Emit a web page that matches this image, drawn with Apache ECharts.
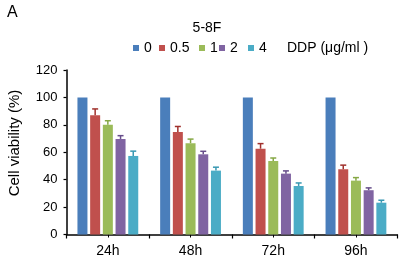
<!DOCTYPE html>
<html>
<head>
<meta charset="utf-8">
<script src="https://cdn.jsdelivr.net/npm/echarts@6/dist/echarts.min.js"></script>
<style>
  html, body { margin: 0; padding: 0; background: #fff; }
  #chart { width: 404px; height: 264px; }
</style>
</head>
<body>
<div id="chart"></div>
<script>
// time points and DDP doses
const categories = ['24h', '48h', '72h', '96h'];
const doses = ['0', '0.5', '1', '2', '4'];

// cell viability (%) per dose
const v0 = [100, 100, 100, 100];
const v05 = [87, 74.8, 62.6, 47.6];
const v1 = [80, 66.6, 53.6, 39.3];
const v2 = [69.7, 58.5, 44.4, 32.3];
const v4 = [57.3, 46.6, 35.4, 23.2];

// error (upper) per dose
const e0 = [0, 0, 0, 0];
const e05 = [4.6, 4, 3.7, 3];
const e1 = [3, 3, 2.2, 2.2];
const e2 = [2.4, 2.2, 2, 1.7];
const e4 = [3.5, 2.5, 2.2, 1.8];

const yTicks = [0, 20, 40, 60, 80, 100, 120];

const values = [v0, v05, v1, v2, v4];
const errors = [e0, e05, e1, e2, e4];
const colors = ['#4a7ebb', '#c0504d', '#9bbb59', '#8064a2', '#4bacc6'];
const errColors = ['#3a64a0', '#a0302c', '#86a845', '#664d8a', '#3898b2'];

const FONT = 'Liberation Sans, Arial, sans-serif';
const BAR_W = 10;
const BAR_STEP = 12.7;

const chart = echarts.init(document.getElementById('chart'));

const series = [];
values.forEach((vals, i) => {
  series.push({
    name: doses[i],
    type: 'bar',
    data: vals,
    barWidth: BAR_W,
    barGap: '27%',
    itemStyle: { color: colors[i] },
    emphasis: { disabled: true }
  });
});
values.forEach((vals, i) => {
  if (errors[i].every(e => e === 0)) return;
  series.push({
    type: 'custom',
    data: vals.map((v, k) => [k, v, errors[i][k]]),
    silent: true,
    z: 5,
    renderItem: function (params, api) {
      const top = api.coord([api.value(0), api.value(1) + api.value(2)]);
      const base = api.coord([api.value(0), api.value(1)]);
      const x = top[0] + (i - 2) * BAR_STEP;
      const style = { stroke: errColors[i], lineWidth: 1.5 };
      return {
        type: 'group',
        children: [
          { type: 'line', shape: { x1: x, y1: base[1], x2: x, y2: top[1] }, style: style },
          { type: 'line', shape: { x1: x - 3, y1: top[1], x2: x + 3, y2: top[1] }, style: style }
        ]
      };
    }
  });
});

// one legend per item so the spacing follows the original
const legendLeft = [133, 159, 199, 219, 248];
const legends = doses.map((d, i) => ({
  data: [d],
  left: legendLeft[i],
  top: 40,
  padding: 0,
  itemWidth: 6,
  itemHeight: 6,
  icon: 'rect',
  selectedMode: false,
  textStyle: { fontFamily: FONT, fontSize: 14, color: '#000', lineHeight: 16 }
}));

const option = {
  animation: false,
  textStyle: { fontFamily: FONT },
  title: {
    text: '5-8F',
    left: 202,
    textAlign: 'center',
    top: 16,
    textStyle: { fontFamily: FONT, fontSize: 14, fontWeight: 'normal', color: '#000' }
  },
  legend: legends,
  graphic: [
    { type: 'text', left: 7, top: 5, style: { text: 'A', font: '16px ' + FONT, fill: '#000' } },
    { type: 'text', left: 287, top: 40, style: { text: 'DDP (μg/ml )', font: '14px ' + FONT, fill: '#000', lineHeight: 16 } },
    {
      type: 'text', x: 15, y: 143, rotation: Math.PI / 2,
      style: { text: 'Cell viability (%)', font: '15px ' + FONT, fill: '#000', align: 'center', verticalAlign: 'middle' }
    }
  ],
  grid: { left: 66.5, right: 6.7, top: 70, bottom: 29.5, containLabel: false },
  xAxis: [
    {
      type: 'category',
      data: categories,
      axisLine: { lineStyle: { color: '#000', width: 1.5 } },
      axisTick: { show: true, length: 4, lineStyle: { color: '#000', width: 1.2 } },
      axisLabel: { color: '#000', fontSize: 14, fontFamily: FONT, margin: 10 }
    },
    {
      type: 'category',
      data: categories,
      position: 'bottom',
      axisLine: { show: false },
      axisTick: { show: true, alignWithLabel: true, length: 3, lineStyle: { color: '#000', width: 1 } },
      axisLabel: { show: false }
    }
  ],
  yAxis: {
    type: 'value',
    min: yTicks[0],
    max: yTicks[yTicks.length - 1],
    interval: yTicks[1] - yTicks[0],
    splitLine: { show: false },
    axisLine: { show: true, lineStyle: { color: '#000', width: 1.5 } },
    axisTick: { show: true, length: 3, lineStyle: { color: '#000', width: 1.2 } },
    axisLabel: { color: '#000', fontSize: 13, fontFamily: FONT, margin: 9 }
  },
  series: series
};

chart.setOption(option);
window.addEventListener('resize', chart.resize);
</script>
</body>
</html>
